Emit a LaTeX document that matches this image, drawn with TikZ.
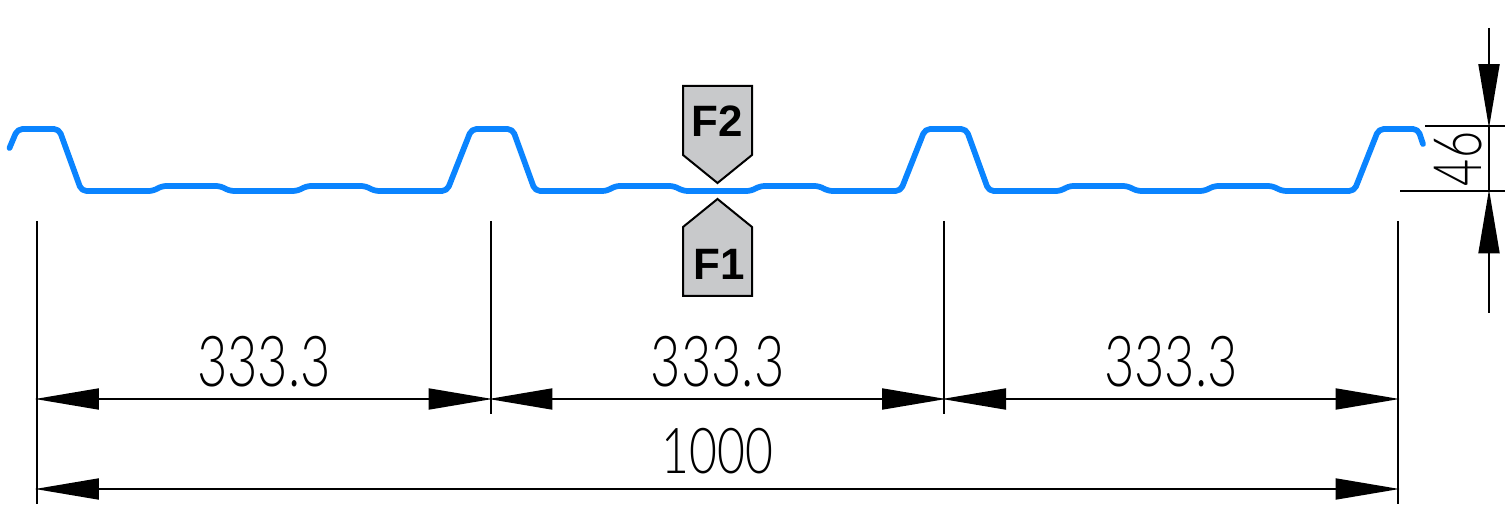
\documentclass[tikz,border=0pt]{standalone}
\usepackage{fontspec}
\usepackage{xcolor}
\setmainfont{Liberation Sans}
\newfontfamily\cadfont{Lato Light}
\usetikzlibrary{arrows.meta}
\definecolor{sheetblue}{HTML}{0A84FF}
\definecolor{loadgray}{HTML}{C8C9CB}
\begin{document}
\begin{tikzpicture}[
    x=0.02cm, y=-0.02cm,
    sheet/.style = {sheetblue, line width=0.115cm, line cap=round, line join=round, rounded corners=0.1cm},
    helpline/.style = {black, line width=0.04cm},
    dimline/.style = {helpline, shorten <=-0.04cm, shorten >=-0.04cm, {Triangle[length=1.28cm,width=0.42cm]}-{Triangle[length=1.28cm,width=0.42cm]}},
    tipline/.style = {helpline, shorten >=-0.04cm, -{Triangle[length=1.28cm,width=0.42cm]}},
    dimtext/.style = {font=\cadfont\fontsize{40}{40}\selectfont, xscale=0.745, transform shape, inner sep=0pt},
    loadbox/.style = {draw=black, fill=loadgray, line width=0.04cm, line join=miter},
    loadtext/.style = {font=\bfseries\fontsize{25}{25}\selectfont, inner sep=0pt}
                    ]
    \useasboundingbox (0,0) rectangle (1511,506);
    \def\pitch{453.6}
    % sheet profile, one rib after the other
    \draw [sheet] (9.5,148) -- (17.5,129)
        foreach \i in {0,1,2} {
            -- (\i*\pitch+59,129)
            -- (\i*\pitch+81.5,191) -- (\i*\pitch+154,191) -- (\i*\pitch+161,186)
            -- (\i*\pitch+221,186) -- (\i*\pitch+229,191) -- (\i*\pitch+298,191)
            -- (\i*\pitch+306,186) -- (\i*\pitch+366,186) -- (\i*\pitch+374,191)
            -- (\i*\pitch+447,191) -- (\i*\pitch+471.5,129)
        }
        -- (1418,129) -- (1423,144);
    % load marks
    \draw [loadbox] (683,86) -- (752,86) -- (752,155) -- (717.5,183) -- (683,155) -- cycle;
    \draw [loadbox] (683,296) -- (752,296) -- (752,227) -- (717.5,199) -- (683,227) -- cycle;
    \node[loadtext] at (717.5,121) (ftwo) {F2};
    \node[loadtext] at (719,264) (fone) {F1};
    % extension lines
    \coordinate (e1t) at (37,221);
    \coordinate (e1m) at (37,399);
    \coordinate (e1l) at (37,489);
    \coordinate (e1b) at (37,504);
    \coordinate (e2t) at (490.5,221);
    \coordinate (e2m) at (490.5,399);
    \coordinate (e2b) at (490.5,414);
    \coordinate (e3t) at (944,221);
    \coordinate (e3m) at (944,399);
    \coordinate (e3b) at (944,414);
    \coordinate (e4t) at (1397.5,221);
    \coordinate (e4m) at (1397.5,399);
    \coordinate (e4l) at (1397.5,489);
    \coordinate (e4b) at (1397.5,504);
    \draw [helpline] (e1t) -- (e1b);
    \draw [helpline] (e2t) -- (e2b);
    \draw [helpline] (e3t) -- (e3b);
    \draw [helpline] (e4t) -- (e4b);
    \draw [dimline] (e1m) -- (e2m);
    \draw [dimline] (e2m) -- (e3m);
    \draw [dimline] (e3m) -- (e4m);
    \draw [dimline] (e1l) -- (e4l);
    \node[dimtext] at (264,362) (dima) {333.3};
    \node[dimtext] at (717.5,362) (dimb) {333.3};
    \node[dimtext] at (1171,362) (dimc) {333.3};
    \node[font=\cadfont\fontsize{36}{36}\selectfont, xscale=0.76, transform shape, inner sep=0pt] at (717.5,451) (dimd) {1000};
    % height on the right
    \coordinate (h1l) at (1425,126);
    \coordinate (h1r) at (1505,126);
    \coordinate (h2l) at (1400,191.5);
    \coordinate (h2r) at (1505,191.5);
    \coordinate (h1) at (1489,126);
    \coordinate (h2) at (1489,191.5);
    \coordinate (htop) at (1489,28);
    \coordinate (hbot) at (1489,313);
    \draw [helpline] (h1l) -- (h1r);
    \draw [helpline] (h2l) -- (h2r);
    \draw [helpline] (h1) -- (h2);
    \draw [tipline] (htop) -- (h1);
    \draw [tipline] (hbot) -- (h2);
    \node[font=\cadfont\fontsize{38}{38}\selectfont, inner sep=0pt, rotate=90, xscale=0.7, transform shape] at (1458,159) (dime) {46};
\end{tikzpicture}
\end{document}
